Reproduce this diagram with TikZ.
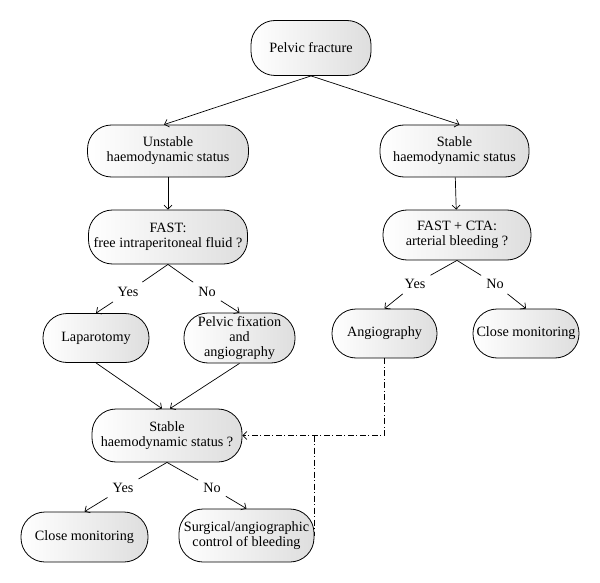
\documentclass[tikz,border=0pt]{standalone}
\usepackage{fontspec}
\setmainfont{Liberation Serif}
\usetikzlibrary{arrows.meta}

\begin{document}
\begin{tikzpicture}[
  x=1pt, y=-1pt,
  stepnode/.style={draw, line width=0.8pt, rounded corners=24pt,
    left color=white, right color=black!13, align=center, inner sep=1pt,
    font=\fontsize{14.2pt}{15pt}\selectfont},
  answer/.style={inner sep=5pt, font=\fontsize{14.2pt}{15pt}\selectfont},
  flow/.style={line width=0.7pt},
  flowarr/.style={flow, -{Straight Barb[length=4pt,width=8pt]}},
  dashdot/.style={line width=0.7pt, dash pattern=on 6pt off 2.5pt on 1pt off 2.5pt},
]
  \useasboundingbox (0,0) rectangle (600,583);

  % Top
  \node[stepnode, minimum width=120pt, minimum height=55pt] (pelvic) at (311,48) {Pelvic fracture};

  % Unstable branch (left)
  \node[stepnode, minimum width=161pt, minimum height=52pt] (unstable) at (168,151) {Unstable\\haemodynamic status};
  \node[stepnode, minimum width=159pt, minimum height=54pt] (fastl) at (168,237) {FAST:\\free intraperitoneal fluid ?};
  \node[answer] (yesl) at (128,292) {Yes};
  \node[answer] (nol) at (207,292) {No};
  \node[stepnode, minimum width=106pt, minimum height=49pt] (lapar) at (96,338) {Laparotomy};
  \node[stepnode, minimum width=111pt, minimum height=50pt] (pfix) at (239.5,338) {Pelvic fixation\\and\\angiography};
  \node[stepnode, minimum width=150pt, minimum height=53pt] (stableq) at (167,435.5) {Stable\\haemodynamic status ?};
  \node[answer] (yesb) at (123,488) {Yes};
  \node[answer] (nob) at (212,488) {No};
  \node[stepnode, minimum width=127pt, minimum height=50pt] (closel) at (84.5,537) {Close monitoring};
  \node[stepnode, minimum width=135pt, minimum height=53pt] (surg) at (246.5,535.5) {Surgical/angiographic\\control of bleeding};

  % Stable branch (right)
  \node[stepnode, minimum width=149pt, minimum height=52pt] (stable) at (454.5,151) {Stable\\haemodynamic status};
  \node[stepnode, minimum width=148pt, minimum height=50pt] (fastr) at (457,235) {FAST + CTA:\\arterial bleeding ?};
  \node[answer] (yesr) at (415,284) {Yes};
  \node[answer] (nor) at (495,284) {No};
  \node[stepnode, minimum width=105pt, minimum height=49pt] (angio) at (384.5,333.5) {Angiography};
  \node[stepnode, minimum width=106pt, minimum height=49pt] (closer) at (526,333.5) {Close monitoring};

  \draw[flowarr] (pelvic.south) -- ([xshift=-4pt]unstable.north);
  \draw[flowarr] (pelvic.south) -- ([xshift=5pt]stable.north);
  \draw[flowarr] (unstable) -- (fastl);
  \draw[flowarr] (stable) -- (fastr);

  \draw[flow] (fastl.south) -- (yesl); \draw[flowarr] (yesl) -- (lapar.north);
  \draw[flow] (fastl.south) -- (nol); \draw[flowarr] (nol) -- (pfix.north);
  \draw[flowarr] (lapar.south) -- ([xshift=-5pt]stableq.north);
  \draw[flowarr] (pfix.south) -- ([xshift=3pt]stableq.north);
  \draw[flow] (stableq.south) -- (yesb); \draw[flowarr] (yesb) -- (closel.north);
  \draw[flow] (stableq.south) -- (nob); \draw[flowarr] (nob) -- (surg.north);

  \draw[flow] (fastr.south) -- (yesr); \draw[flowarr] (yesr) -- (angio.north);
  \draw[flow] (fastr.south) -- (nor); \draw[flowarr] (nor) -- (closer.north);

  % Angiography back to reassessment
  \draw[dashdot, -{Straight Barb[length=4pt,width=8pt]}] (angio.south) |- (stableq.east);
  \coordinate (split) at (surg.east |- stableq.east);
  \draw[dashdot] (split) -- (surg.east);
\end{tikzpicture}
\end{document}
